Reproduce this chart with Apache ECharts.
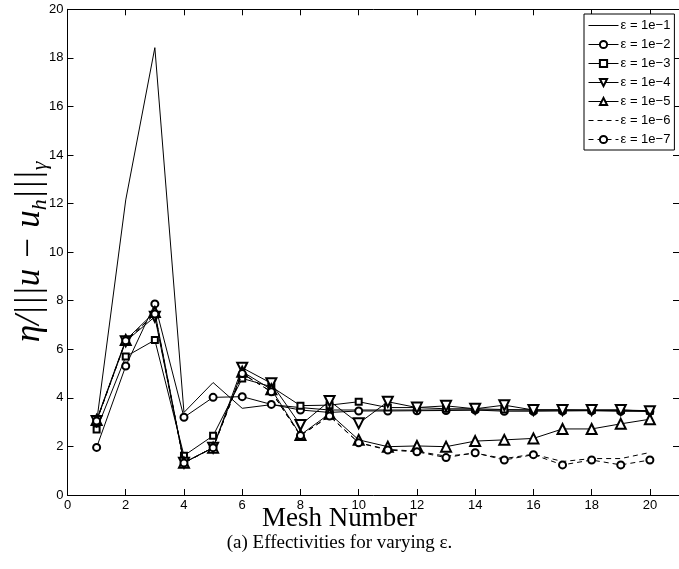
<!DOCTYPE html>
<html>
<head>
<meta charset="utf-8">
<script src="https://cdn.jsdelivr.net/npm/echarts@6/dist/echarts.min.js"></script>
<style>html,body{margin:0;padding:0;background:#fff}#c{width:679px;height:569px}</style>
</head>
<body>
<div id="c"></div>
<script>
const meshNumbers = [1,2,3,4,5,6,7,8,9,10,11,12,13,14,15,16,17,18,19,20];
const seriesNames = ['ε = 1e−1','ε = 1e−2','ε = 1e−3','ε = 1e−4','ε = 1e−5','ε = 1e−6','ε = 1e−7'];
const eps1 = [3.0, 12.15, 18.42, 3.4, 4.63, 3.57, 3.72, 3.6, 3.5, 3.5, 3.5, 3.5, 3.5, 3.5, 3.5, 3.5, 3.5, 3.48, 3.47, 3.45];
const eps2 = [1.96, 5.31, 7.87, 3.2, 4.02, 4.05, 3.73, 3.5, 3.4, 3.46, 3.46, 3.47, 3.48, 3.5, 3.45, 3.45, 3.46, 3.47, 3.45, 3.45];
const eps3 = [2.7, 5.7, 6.38, 1.62, 2.44, 4.8, 4.46, 3.68, 3.7, 3.84, 3.6, 3.6, 3.55, 3.55, 3.52, 3.5, 3.5, 3.5, 3.5, 3.47];
const eps4 = [3.05, 6.33, 7.34, 1.33, 1.95, 5.24, 4.6, 2.88, 3.87, 2.95, 3.84, 3.6, 3.67, 3.55, 3.7, 3.5, 3.5, 3.5, 3.5, 3.45];
const eps5 = [3.09, 6.38, 7.54, 1.33, 1.95, 5.08, 4.35, 2.47, 3.35, 2.27, 1.99, 2.02, 1.99, 2.22, 2.27, 2.33, 2.72, 2.72, 2.93, 3.12];
const eps6 = [3.05, 6.35, 7.45, 1.32, 1.95, 5.0, 4.25, 2.45, 3.25, 2.15, 1.88, 1.8, 1.6, 1.72, 1.5, 1.68, 1.38, 1.5, 1.5, 1.75];
const eps7 = [3.05, 6.35, 7.45, 1.32, 1.95, 5.0, 4.25, 2.45, 3.25, 2.15, 1.85, 1.78, 1.54, 1.74, 1.44, 1.66, 1.24, 1.44, 1.24, 1.44];
const xTicks = [0,2,4,6,8,10,12,14,16,18,20];
const yTicks = [0,2,4,6,8,10,12,14,16,18,20];

const allData = [eps1, eps2, eps3, eps4, eps5, eps6, eps7];
const symbols = ['none','emptyCircle','emptyRect','emptyTriangle','emptyTriangle','none','emptyCircle'];
const symSizes = [0, 7, 6, 10, 10, 0, 7];
const rotates = [0, 0, 0, 180, 0, 0, 0];
const dashes = ['solid','solid','solid','solid','solid',[5,4],[5,4]];

const chart = echarts.init(document.getElementById('c'), null, {renderer: 'canvas'});
const tickFont = {fontFamily: 'Liberation Sans, Arial, sans-serif', fontSize: 13, color: '#000'};

const series = allData.map((d, i) => ({
  name: seriesNames[i],
  type: 'line',
  data: d.map((v, k) => [meshNumbers[k], v]),
  symbol: symbols[i],
  symbolSize: symSizes[i],
  symbolRotate: rotates[i],
  showSymbol: symbols[i] !== 'none',
  color: '#000',
  lineStyle: {color: '#000', width: 1, type: dashes[i]},
  itemStyle: {color: '#000', borderColor: '#000', borderWidth: 1},
  animation: false,
  z: 2 + i
}));

const legendData = seriesNames.map((n, i) => {
  const item = {name: n};
  if (symbols[i] === 'none') {
    item.itemStyle = {color: 'rgba(0,0,0,0)', borderColor: 'rgba(0,0,0,0)', borderWidth: 0, opacity: 0};
  }
  return item;
});

chart.setOption({
  animation: false,
  backgroundColor: '#fff',
  grid: {left: 67.5, top: 9.3, right: -5, bottom: 74, containLabel: false},
  xAxis: [{
    type: 'value', min: 0, max: 21, interval: 2, position: 'bottom',
    axisLine: {show: true, onZero: false, lineStyle: {color: '#000', width: 1}},
    axisTick: {show: true, inside: true, length: 6, lineStyle: {color: '#000'}},
    axisLabel: {show: true, margin: 4, ...tickFont, showMaxLabel: false,
      formatter: v => xTicks.includes(v) ? String(v) : ''},
    splitLine: {show: false}
  }, {
    type: 'value', min: 0, max: 21, interval: 2, position: 'top',
    axisLine: {show: true, onZero: false, lineStyle: {color: '#000', width: 1}},
    axisTick: {show: true, inside: true, length: 6, lineStyle: {color: '#000'}},
    axisLabel: {show: false}, splitLine: {show: false}
  }],
  yAxis: [{
    type: 'value', min: 0, max: 20, interval: 2, position: 'left',
    axisLine: {show: true, onZero: false, lineStyle: {color: '#000', width: 1}},
    axisTick: {show: true, inside: true, length: 6, lineStyle: {color: '#000'}},
    axisLabel: {show: true, margin: 4, ...tickFont,
      formatter: v => yTicks.includes(v) ? String(v) : ''},
    splitLine: {show: false}
  }, {
    type: 'value', min: 0, max: 20, interval: 2, position: 'right',
    axisLine: {show: true, onZero: false, lineStyle: {color: '#000', width: 1}},
    axisTick: {show: true, inside: true, length: 6, lineStyle: {color: '#000'}},
    axisLabel: {show: false}, splitLine: {show: false}
  }],
  legend: {
    show: true, orient: 'vertical', left: 584, top: 14,
    backgroundColor: '#fff', borderColor: '#000', borderWidth: 1,
    padding: [5, 4, 4, 4], itemGap: 6, itemWidth: 30, itemHeight: 9,
    lineStyle: {width: 1},
    textStyle: {fontFamily: 'Liberation Sans, Arial, sans-serif', fontSize: 13, color: '#000', padding: [0,0,0,-3]},
    data: legendData
  },
  graphic: [
    {type: 'text', left: 'center', top: 505, style: {text: 'Mesh Number', font: '27px "Liberation Serif", serif', fill: '#000'}},
    {type: 'text', left: 'center', top: 534, style: {text: '(a) Effectivities for varying ε.', font: '19px "Liberation Serif", serif', fill: '#000'}},
    {type: 'text', x: 30, y: 252, rotation: Math.PI / 2,
      style: {
        text: '{a|η/|||u − u}{s|h}{a||||}{s|γ}',
        align: 'center', verticalAlign: 'middle',
        rich: {
          a: {font: 'italic 35px "Liberation Serif", serif', fill: '#000', lineHeight: 42, verticalAlign: 'middle'},
          s: {font: 'italic 22px "Liberation Serif", serif', fill: '#000', lineHeight: 42, verticalAlign: 'bottom', padding: [18, 0, 0, 0]}
        }
      }}
  ],
  series: series
});
</script>
</body>
</html>
